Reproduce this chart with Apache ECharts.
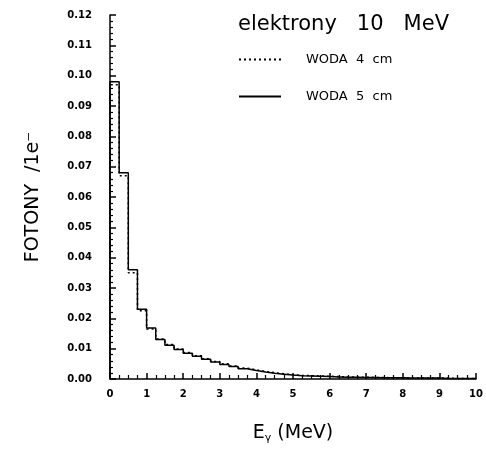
<!DOCTYPE html>
<html>
<head>
<meta charset="utf-8">
<script src="https://cdn.jsdelivr.net/npm/echarts@6/dist/echarts.min.js"></script>
<style>html,body{margin:0;padding:0;background:#fff;}#c{width:486px;height:450px;}</style>
</head>
<body>
<div id="c"></div>
<script>
// Bin left edges (MeV), bin width 0.25; last entry closes the final bin
const binEdges = [0,0.25,0.5,0.75,1,1.25,1.5,1.75,2,2.25,2.5,2.75,3,3.25,3.5,3.75,4,4.25,4.5,4.75,5,5.25,5.5,5.75,6,6.25,6.5,6.75,7,7.25,7.5,7.75,8,8.25,8.5,8.75,9,9.25,9.5,9.75,10];
// WODA 5 cm (solid)
const woda5 = [0.098,0.068,0.036,0.023,0.0168,0.013,0.0111,0.0097,0.0085,0.0075,0.0065,0.0056,0.0048,0.0041,0.0034,0.0028,0.0023,0.0019,0.0016,0.0013,0.0011,0.0010,0.0009,0.0008,0.0007,0.0006,0.0006,0.0005,0.0005,0.0004,0.0004,0.0004,0.0003,0.0003,0.0003,0.0003,0.0002,0.0002,0.0002,0.0002];
// WODA 4 cm (dotted)
const woda4 = [0.097,0.067,0.035,0.0225,0.0165,0.0132,0.0114,0.0099,0.0087,0.0077,0.0067,0.0058,0.0050,0.0043,0.0036,0.0030,0.0025,0.0021,0.0017,0.0014,0.0012,0.0011,0.0010,0.0009,0.0008,0.0007,0.0006,0.0006,0.0005,0.0005,0.0004,0.0004,0.0004,0.0003,0.0003,0.0003,0.0003,0.0002,0.0002,0.0002];
const yTicks = ['0.00','0.01','0.02','0.03','0.04','0.05','0.06','0.07','0.08','0.09','0.10','0.11','0.12'];

function steps(vals){
  const d=[[binEdges[0],0]];
  for(let i=0;i<vals.length;i++) d.push([binEdges[i],vals[i]]);
  d.push([binEdges[vals.length],vals[vals.length-1]]);
  return d;
}

const chart = echarts.init(document.getElementById('c'), null, {renderer:'canvas'});
const font = 'DejaVu Sans';
chart.setOption({
  animation:false,
  backgroundColor:'#fff',
  title:{
    text:'elektrony   10   MeV',
    left:233, top:9,
    textStyle:{fontFamily:font,fontSize:21,fontWeight:'normal',color:'#000'}
  },
  legend:{
    orient:'vertical', left:233, top:48, itemGap:24,
    itemWidth:42, itemHeight:14,
    itemStyle:{opacity:0},
    textStyle:{fontFamily:font,fontSize:13,color:'#000',padding:[0,0,0,20]},
    data:['WODA  4  cm','WODA  5  cm']
  },
  grid:{left:110,right:9,top:15,bottom:71},
  xAxis:{
    type:'value', min:0, max:10, interval:1,
    name:'E{g|γ} (MeV)', nameLocation:'middle', nameGap:44,
    nameTextStyle:{fontFamily:font,fontSize:19,color:'#000',
      rich:{g:{fontFamily:font,fontSize:11,padding:[10,0,0,0],color:'#000'}}},
    axisLine:{lineStyle:{color:'#000',width:1.5}},
    axisTick:{inside:true,length:6,lineStyle:{color:'#000',width:1.5}},
    minorTick:{show:true,splitNumber:4,length:4,lineStyle:{color:'#000',width:1.2}},
    splitLine:{show:false},
    axisLabel:{fontFamily:font,fontSize:10,fontWeight:'bold',color:'#000',margin:10}
  },
  yAxis:{
    type:'value', min:0, max:0.12, interval:0.01,
    name:'FOTONY  /1e⁻', nameLocation:'middle', nameGap:67,
    nameTextStyle:{fontFamily:font,fontSize:19,color:'#000'},
    axisLine:{lineStyle:{color:'#000',width:1.5}},
    axisTick:{inside:true,length:6,lineStyle:{color:'#000',width:1.5}},
    minorTick:{show:true,splitNumber:5,length:3,lineStyle:{color:'#000',width:1.2}},
    splitLine:{show:false},
    axisLabel:{fontFamily:font,fontSize:10,fontWeight:'bold',color:'#000',margin:18,
      formatter:(v)=>yTicks[Math.round(v*100)]}
  },
  series:[
    {name:'WODA  4  cm',type:'line',step:'end',showSymbol:false,symbol:'none',
     data:steps(woda4),lineStyle:{color:'#000',width:1.5,type:[2,3]},itemStyle:{color:'#000'}},
    {name:'WODA  5  cm',type:'line',step:'end',showSymbol:false,symbol:'none',
     data:steps(woda5),lineStyle:{color:'#000',width:1.5},itemStyle:{color:'#000'}}
  ]
});
</script>
</body>
</html>
